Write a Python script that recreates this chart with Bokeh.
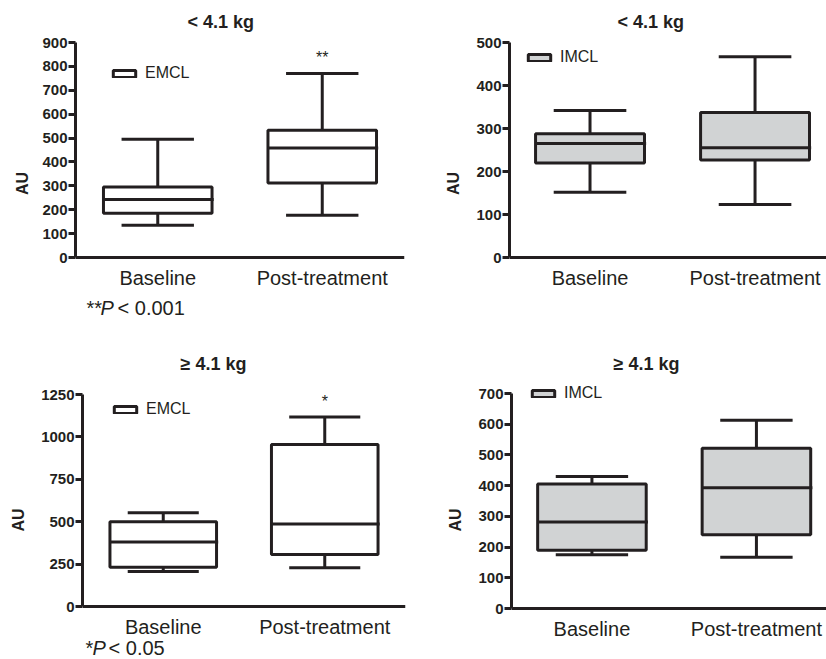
from bokeh.plotting import figure
from bokeh.layouts import column, row
from bokeh.models import Range1d, FixedTicker, Label, Legend, LegendItem, Title
from bokeh.embed import file_html
from bokeh.resources import INLINE

groups = ["Baseline", "Post-treatment"]

# < 4.1 kg, EMCL
emcl_lo_min = [135, 177]
emcl_lo_q1 = [185, 312]
emcl_lo_med = [243, 458]
emcl_lo_q3 = [295, 533]
emcl_lo_max = [495, 770]
emcl_lo_ticks = [0, 100, 200, 300, 400, 500, 600, 700, 800, 900]

# < 4.1 kg, IMCL
imcl_lo_min = [152, 123]
imcl_lo_q1 = [220, 227]
imcl_lo_med = [265, 255]
imcl_lo_q3 = [288, 337]
imcl_lo_max = [342, 467]
imcl_lo_ticks = [0, 100, 200, 300, 400, 500]

# >= 4.1 kg, EMCL
emcl_hi_min = [207, 228]
emcl_hi_q1 = [232, 307]
emcl_hi_med = [380, 487]
emcl_hi_q3 = [500, 955]
emcl_hi_max = [553, 1117]
emcl_hi_ticks = [0, 250, 500, 750, 1000, 1250]

# >= 4.1 kg, IMCL
imcl_hi_min = [175, 167]
imcl_hi_q1 = [190, 240]
imcl_hi_med = [282, 393]
imcl_hi_q3 = [405, 522]
imcl_hi_max = [430, 613]
imcl_hi_ticks = [0, 100, 200, 300, 400, 500, 600, 700]

INK = "#231f20"
GREY = "#d1d3d4"
FONT = "Liberation Sans"
BOX_HALF = 0.33
CAP_HALF = 0.22


def y_extent(ymax, px_top, px_zero, frame_top, frame_bottom):
    k = ymax / (px_zero - px_top)
    return (-(frame_bottom - px_zero) * k, ymax + (px_top - frame_top) * k)


def make_panel(title, mins, q1, med, q3, maxs, ticks, xr, yr, fill, name,
               leg_loc, borders, width, height, t_left, t_stand, au_stand,
               star=None, note=None):
    left, right, top, bottom = borders
    p = figure(width=width, height=height, output_backend="svg",
               toolbar_location=None, x_range=Range1d(*xr),
               y_range=Range1d(*yr),
               min_border_left=left, min_border_right=right,
               min_border_top=top, min_border_bottom=bottom,
               outline_line_color=None, background_fill_color="white",
               border_fill_color="white")
    p.title = None
    p.add_layout(Title(text=title, text_font=FONT, text_font_size="18px",
                       text_font_style="bold", text_color=INK, align="left",
                       offset=t_left, standoff=t_stand), "above")
    xs = [i + 0.5 for i in range(len(groups))]
    p.xgrid.visible = False
    p.ygrid.visible = False

    # whiskers
    p.segment(xs, q3, xs, maxs, line_color=INK, line_width=3)
    p.segment(xs, q1, xs, mins, line_color=INK, line_width=3)
    # caps
    p.segment([x - CAP_HALF for x in xs], maxs, [x + CAP_HALF for x in xs], maxs,
              line_color=INK, line_width=3)
    p.segment([x - CAP_HALF for x in xs], mins, [x + CAP_HALF for x in xs], mins,
              line_color=INK, line_width=3)
    # boxes
    box = p.quad(left=[x - BOX_HALF for x in xs], right=[x + BOX_HALF for x in xs],
                 bottom=q1, top=q3, fill_color=fill, line_color=INK, line_width=3)
    # medians
    p.segment([x - BOX_HALF for x in xs], med, [x + BOX_HALF + 0.01 for x in xs], med,
              line_color=INK, line_width=3)

    leg = Legend(items=[LegendItem(label=name, renderers=[box])],
                 location=leg_loc, background_fill_alpha=0, border_line_alpha=0,
                 padding=0, margin=0, spacing=0, glyph_width=28, glyph_height=9,
                 label_height=9, label_standoff=7, label_text_font=FONT,
                 label_text_font_size="16px", label_text_color=INK)
    p.add_layout(leg, "center")

    # axes
    p.xaxis.fixed_location = 0
    p.xaxis.ticker = FixedTicker(ticks=xs)
    p.xaxis.major_label_overrides = {x: g for x, g in zip(xs, groups)}
    p.xaxis.major_tick_line_color = None
    p.xaxis.minor_tick_line_color = None
    p.xaxis.axis_line_width = 3
    p.xaxis.axis_line_color = INK
    p.xaxis.major_label_text_font = FONT
    p.xaxis.major_label_text_font_size = "20px"
    p.xaxis.major_label_text_color = INK
    p.xaxis.major_label_standoff = 3

    p.yaxis.bounds = (ticks[0], ticks[-1])
    p.yaxis.ticker = FixedTicker(ticks=ticks)
    p.yaxis.minor_tick_line_color = None
    p.yaxis.axis_line_width = 3
    p.yaxis.axis_line_color = INK
    p.yaxis.major_tick_line_width = 3
    p.yaxis.major_tick_line_color = INK
    p.yaxis.major_tick_out = 7
    p.yaxis.major_tick_in = 0
    p.yaxis.major_label_text_font = FONT
    p.yaxis.major_label_text_font_style = "bold"
    p.yaxis.major_label_text_font_size = "15px"
    p.yaxis.major_label_text_color = INK
    p.yaxis.major_label_standoff = 1
    p.yaxis.axis_label = "AU"
    p.yaxis.axis_label_text_font = FONT
    p.yaxis.axis_label_text_font_style = "bold"
    p.yaxis.axis_label_text_font_size = "16px"
    p.yaxis.axis_label_text_color = INK
    p.yaxis.axis_label_standoff = au_stand

    if star:
        p.add_layout(Label(x=xs[1], y=maxs[1], y_offset=16, text=star,
                           text_align="center", text_baseline="middle",
                           text_font=FONT, text_font_size="16px", text_color=INK))
    if note:
        nx, ny, parts = note
        for txt, off, style in parts:
            p.add_layout(Label(x=nx, y=ny, x_offset=off, text=txt,
                               text_align="left", text_baseline="middle",
                               text_font=FONT, text_font_size="20px",
                               text_font_style=style, text_color=INK))
    return p


yr1 = y_extent(emcl_lo_ticks[-1], 42, 257, 36, 330)
yr2 = y_extent(imcl_lo_ticks[-1], 42, 257, 36, 330)
yr3 = y_extent(emcl_hi_ticks[-1], 64, 276, 50, 329)
yr4 = y_extent(imcl_hi_ticks[-1], 63, 278, 50, 329)

p1 = make_panel("< 4.1 kg", emcl_lo_min, emcl_lo_q1, emcl_lo_med, emcl_lo_q3,
                emcl_lo_max, emcl_lo_ticks, (0, 2), yr1, "white", "EMCL",
                (35, 248), (75, 9, 36, 0), 413, 330, 112, 9, 8, star="**",
                note=(0.067, -213, [("**", 0, "normal"), ("P", 14, "italic"),
                                    ("< 0.001", 31, "normal")]))
p2 = make_panel("< 4.1 kg", imcl_lo_min, imcl_lo_q1, imcl_lo_med, imcl_lo_q3,
                imcl_lo_max, imcl_lo_ticks, (0.0121, 1.933), yr2, GREY, "IMCL",
                (16, 264), (96, 0, 36, 0), 413, 330, 108, 9, 11)
p3 = make_panel("\u2265 4.1 kg", emcl_hi_min, emcl_hi_q1, emcl_hi_med, emcl_hi_q3,
                emcl_hi_max, emcl_hi_ticks, (0, 2), yr3, "white", "EMCL",
                (29, 241), (82, 8, 50, 0), 413, 329, 98, 14, 11, star="*",
                note=(0.019, -245, [("*", 0, "normal"), ("P", 7, "italic"),
                                    ("< 0.05", 23, "normal")]))
p4 = make_panel("\u2265 4.1 kg", imcl_hi_min, imcl_hi_q1, imcl_hi_med, imcl_hi_q3,
                imcl_hi_max, imcl_hi_ticks, (0.011, 1.926), yr4, GREY, "IMCL",
                (18, 257), (98, 0, 50, 0), 413, 329, 102, 13, 11)

layout = column(row(p1, p2), row(p3, p4))
open("out.html", "w").write(file_html(layout, INLINE))
